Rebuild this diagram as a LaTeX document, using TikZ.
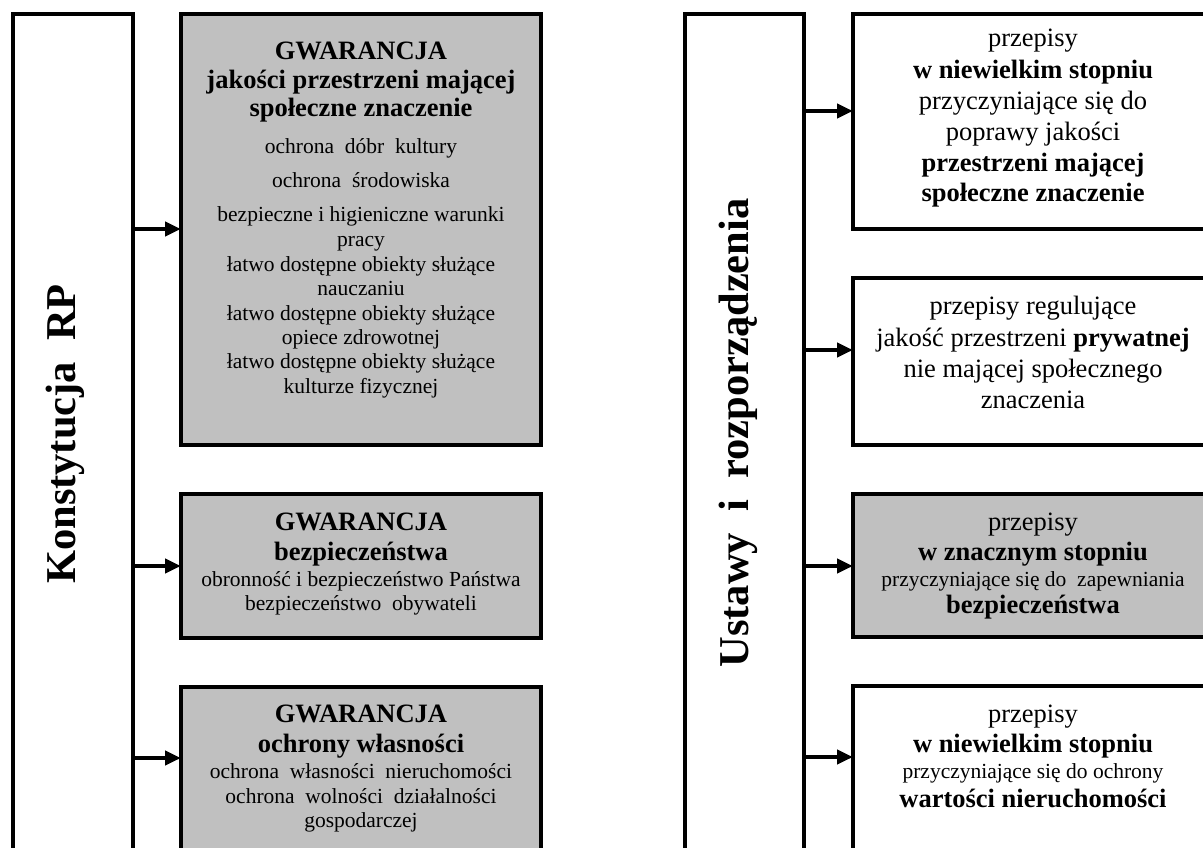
\documentclass[tikz,border=0pt]{standalone}
\usepackage{fontspec}
\setmainfont{Liberation Serif}
\usetikzlibrary{arrows.meta}
\definecolor{boxgray}{HTML}{C0C0C0}
\tikzset{
  frame/.style={draw=black, line width=4pt, inner sep=0pt, outer sep=0pt, anchor=north west},
  graybox/.style={frame, fill=boxgray},
  whitebox/.style={frame, fill=white},
  ln/.style={anchor=base, inner sep=0pt, font=\fontsize{21.5}{24}\selectfont},
  lb/.style={anchor=base, inner sep=0pt, font=\fontsize{26.5}{30}\selectfont\bfseries},
  lr/.style={anchor=base, inner sep=0pt, font=\fontsize{26.5}{30}\selectfont},
  vlabel/.style={rotate=90, inner sep=0pt, font=\fontsize{42.5}{50}\selectfont\bfseries},
  conn/.style={line width=4pt, -{Triangle[length=16pt,width=14pt]}},
}
\begin{document}
\begin{tikzpicture}[x=1pt,y=-1pt]
\useasboundingbox (0,0) rectangle (1203,848);
\fill[white] (0,0) rectangle (1203,848);
\clip (0,0) rectangle (1203,848);

% left column
\node[whitebox, minimum width=120pt, minimum height=856pt] (Lt) at (13,14) {};
\node[vlabel] (Ltxt) at (65,434) {Konstytucja\ \ RP};

\node[graybox, minimum width=360pt, minimum height=431pt] (B1) at (181,14) {};
\node[graybox, minimum width=360pt, minimum height=144pt] (B2) at (181,494) {};
\node[graybox, minimum width=360pt, minimum height=190pt] (B3) at (181,687) {};

% B1 text
\node[lb] (b1a) at (361,60) {GWARANCJA};
\node[lb] (b1b) at (361,89) {jakości przestrzeni mającej};
\node[lb] (b1c) at (361,117) {społeczne znaczenie};
\node[ln] (b1d) at (361,154) {ochrona\ \ dóbr\ \ kultury};
\node[ln] (b1e) at (361,188) {ochrona\ \ środowiska};
\node[ln] (b1f) at (361,222) {bezpieczne i higieniczne warunki};
\node[ln] (b1g) at (361,246) {pracy};
\node[ln] (b1h) at (361,271) {łatwo dostępne obiekty służące};
\node[ln] (b1i) at (361,295) {nauczaniu};
\node[ln] (b1j) at (361,320) {łatwo dostępne obiekty służące};
\node[ln] (b1k) at (361,344) {opiece zdrowotnej};
\node[ln] (b1l) at (361,368) {łatwo dostępne obiekty służące};
\node[ln] (b1m) at (361,393) {kulturze fizycznej};

% B2 text
\node[lb] (b2a) at (361,530) {GWARANCJA};
\node[lb] (b2b) at (361,560) {bezpieczeństwa};
\node[ln] (b2c) at (361,586) {obronność i bezpieczeństwo Państwa};
\node[ln] (b2d) at (361,610) {bezpieczeństwo\ \ obywateli};

% B3 text
\node[lb] (b3a) at (361,722) {GWARANCJA};
\node[lb] (b3b) at (361,752) {ochrony własności};
\node[ln] (b3c) at (361,778) {ochrona\ \ własności\ \ nieruchomości};
\node[ln] (b3d) at (361,803) {ochrona\ \ wolności\ \ działalności};
\node[ln] (b3e) at (361,827) {gospodarczej};

% right column
\node[whitebox, minimum width=119pt, minimum height=856pt] (Rt) at (685,14) {};
\node[vlabel] (Rtxt) at (738,433) {Ustawy\ \ i\ \ rozporządzenia};

\node[whitebox, minimum width=360pt, minimum height=215pt] (R1) at (853,14) {};
\node[whitebox, minimum width=360pt, minimum height=167pt] (R2) at (853,278) {};
\node[graybox, minimum width=360pt, minimum height=143pt] (R3) at (853,494) {};
\node[whitebox, minimum width=360pt, minimum height=190pt] (R4) at (853,686) {};

% R1 text
\node[lr] (r1a) at (1033,47) {przepisy};
\node[lb] (r1b) at (1033,79) {w niewielkim stopniu};
\node[lr] (r1c) at (1033,110) {przyczyniające się do};
\node[lr] (r1d) at (1033,141) {poprawy jakości};
\node[lb] (r1e) at (1033,172) {przestrzeni mającej};
\node[lb] (r1f) at (1033,202) {społeczne znaczenie};

% R2 text
\node[lr] (r2a) at (1033,314) {przepisy regulujące};
\node[lr] (r2b) at (1033,346) {jakość przestrzeni \textbf{prywatnej}};
\node[lr] (r2c) at (1033,377) {nie mającej społecznego};
\node[lr] (r2d) at (1033,408) {znaczenia};

% R3 text
\node[lr] (r3a) at (1033,530) {przepisy};
\node[lb] (r3b) at (1033,560) {w znacznym stopniu};
\node[ln] (r3c) at (1033,586) {przyczyniające się do\ \ zapewniania};
\node[lb] (r3d) at (1033,613) {bezpieczeństwa};

% R4 text
\node[lr] (r4a) at (1033,722) {przepisy};
\node[lb] (r4b) at (1033,752) {w niewielkim stopniu};
\node[ln] (r4c) at (1033,778) {przyczyniające się do ochrony};
\node[lb] (r4d) at (1033,807) {wartości nieruchomości};

% connectors
\draw[conn] (Lt.east |- 0,229) -- (B1.west |- 0,229);
\draw[conn] (Lt.east |- 0,566) -- (B2.west |- 0,566);
\draw[conn] (Lt.east |- 0,758) -- (B3.west |- 0,758);
\draw[conn] (Rt.east |- 0,111) -- (R1.west |- 0,111);
\draw[conn] (Rt.east |- 0,350) -- (R2.west |- 0,350);
\draw[conn] (Rt.east |- 0,566) -- (R3.west |- 0,566);
\draw[conn] (Rt.east |- 0,757) -- (R4.west |- 0,757);
\end{tikzpicture}
\end{document}
